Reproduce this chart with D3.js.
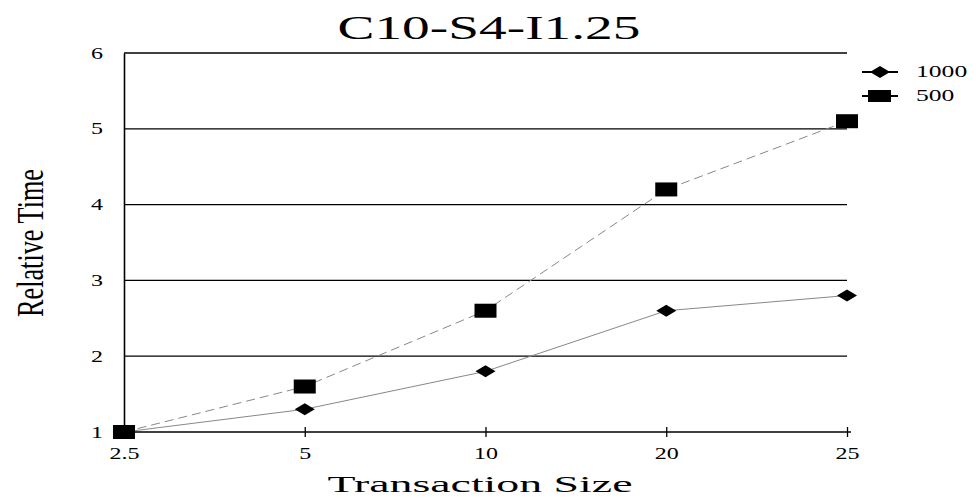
<!DOCTYPE html>
<html>
<head>
<meta charset="utf-8">
<script src="https://cdn.jsdelivr.net/npm/d3@7"></script>
<style>
  body { margin: 0; background: #fff; }
  text { font-family: "Liberation Serif", "Times New Roman", serif; fill: #000; }
</style>
</head>
<body>
<div id="chart"></div>
<script>
const sizes = ["2.5", "5", "10", "20", "25"];
const series1000 = [1, 1.3, 1.8, 2.6, 2.8];
const series500 = [1, 1.6, 2.6, 4.2, 5.1];
const yTicks = [1, 2, 3, 4, 5, 6];

const width = 976, height = 498;
const margin = { top: 53, right: 129, bottom: 66, left: 124 };
const innerWidth = width - margin.left - margin.right;
const innerHeight = height - margin.top - margin.bottom;

const svg = d3.select("#chart").append("svg")
  .attr("width", width)
  .attr("height", height);

// stretch text horizontally, the source chart is wider than normal type
function stretch(sel, k) {
  sel.each(function () {
    const len = this.getComputedTextLength();
    d3.select(this).attr("textLength", len * k).attr("lengthAdjust", "spacingAndGlyphs");
  });
}

const g = svg.append("g").attr("transform", `translate(${margin.left},${margin.top})`);

const x = d3.scalePoint().domain(sizes).range([0, innerWidth]);
const y = d3.scaleLinear().domain([1, 6]).range([innerHeight, 0]);

// grid lines
g.selectAll(".grid")
  .data(yTicks.filter(d => d > 1))
  .enter().append("line")
  .attr("x1", 0).attr("x2", innerWidth)
  .attr("y1", d => y(d)).attr("y2", d => y(d))
  .attr("stroke", "#000").attr("stroke-width", 1.3);

// y axis
const yAxis = g.append("g").call(d3.axisLeft(y).tickValues(yTicks).tickSize(0).tickPadding(21).tickFormat(d3.format("d")));
yAxis.select(".domain").attr("stroke", "#000").attr("stroke-width", 1.6);
yAxis.selectAll("text").style("font-size", "16px").call(stretch, 1.5);

// x axis
const xAxis = g.append("g").attr("transform", `translate(0,${innerHeight})`)
  .call(d3.axisBottom(x).tickSizeOuter(0).tickSize(5).tickPadding(11));
xAxis.select(".domain").attr("stroke", "#000").attr("stroke-width", 1.6)
  .attr("d", `M0,0H${innerWidth + 4}`);
xAxis.selectAll(".tick line").attr("y1", -5).attr("y2", 5).attr("stroke-width", 1.3);
xAxis.selectAll("text").style("font-size", "16px").call(stretch, 1.5);

const line = d3.line().x((d, i) => x(sizes[i])).y(d => y(d));

g.append("path").datum(series1000)
  .attr("fill", "none").attr("stroke", "#888").attr("stroke-width", 1)
  .attr("d", line);

g.append("path").datum(series500)
  .attr("fill", "none").attr("stroke", "#888").attr("stroke-width", 1)
  .attr("stroke-dasharray", "9,5")
  .attr("d", line);

const diamond = "M-10,0L0,-6L10,0L0,6Z";

g.selectAll(".dia").data(series1000).enter().append("path")
  .attr("d", diamond)
  .attr("transform", (d, i) => `translate(${x(sizes[i])},${y(d)})`)
  .attr("fill", "#000");

g.selectAll(".sq").data(series500).enter().append("rect")
  .attr("x", (d, i) => x(sizes[i]) - 11)
  .attr("y", d => y(d) - 7)
  .attr("width", 22).attr("height", 14)
  .attr("fill", "#000");

// title
svg.append("text")
  .attr("x", 489).attr("y", 39)
  .attr("text-anchor", "middle")
  .style("font-size", "33px")
  .text("C10-S4-I1.25")
  .attr("textLength", 303).attr("lengthAdjust", "spacingAndGlyphs");

// axis titles
svg.append("text")
  .attr("x", 480).attr("y", 492)
  .attr("text-anchor", "middle")
  .style("font-size", "24px")
  .text("Transaction Size")
  .attr("textLength", 305).attr("lengthAdjust", "spacingAndGlyphs");

svg.append("text")
  .attr("transform", "translate(43,243) rotate(-90)")
  .attr("text-anchor", "middle")
  .style("font-size", "38px")
  .text("Relative Time")
  .attr("textLength", 148).attr("lengthAdjust", "spacingAndGlyphs");

// legend
const legend = svg.append("g").attr("transform", "translate(862,72)");
const legendItems = ["1000", "500"];
legendItems.forEach((name, i) => {
  const row = legend.append("g").attr("transform", `translate(0,${i * 24})`);
  row.append("line").attr("x1", 0).attr("x2", 36).attr("stroke", "#000").attr("stroke-width", 2);
  if (i === 0) {
    row.append("path").attr("d", diamond).attr("transform", "translate(18,0)").attr("fill", "#000");
  } else {
    row.append("rect").attr("x", 6).attr("y", -6).attr("width", 23).attr("height", 12).attr("fill", "#000");
  }
  row.append("text").attr("x", 54).attr("y", 5).style("font-size", "16px").text(name).call(stretch, 1.6);
});
</script>
</body>
</html>
